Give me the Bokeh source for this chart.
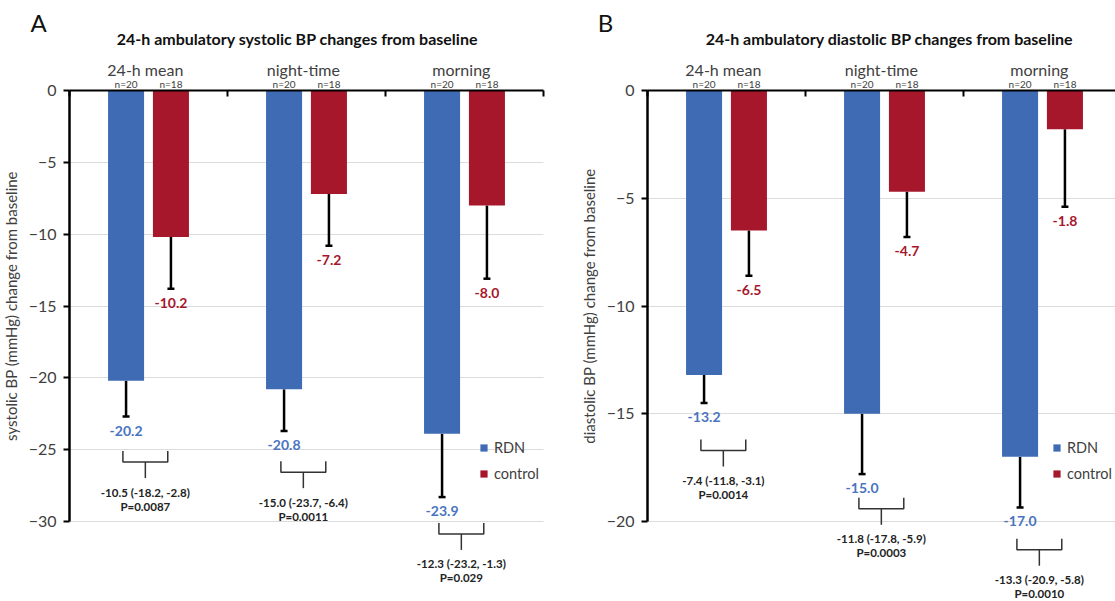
from bokeh.plotting import figure
from bokeh.models import (Range1d, LinearAxis, FixedTicker, Legend, LegendItem,
                          ColumnDataSource, Whisker, TeeHead, Label, Grid)
from bokeh.layouts import row
from bokeh.embed import file_html
from bokeh.resources import INLINE
from bokeh.core.properties import value

# ---------------- data ----------------
categories = ["24-h mean", "night-time", "morning"]
n_rdn = ["n=20", "n=20", "n=20"]
n_ctl = ["n=18", "n=18", "n=18"]
groups = ["RDN", "control"]

sbp_rdn = [-20.2, -20.8, -23.9]
sbp_rdn_err = [-22.7, -23.7, -28.3]
sbp_ctl = [-10.2, -7.2, -8.0]
sbp_ctl_err = [-13.8, -10.8, -13.1]
sbp_diff = ["-10.5 (-18.2, -2.8)", "-15.0 (-23.7, -6.4)", "-12.3 (-23.2, -1.3)"]
sbp_p = ["P=0.0087", "P=0.0011", "P=0.029"]
sbp_bracket_y = [-25.1, -25.8, -30.1]
sbp_ticks = [0, -5, -10, -15, -20, -25, -30]

dbp_rdn = [-13.2, -15.0, -17.0]
dbp_rdn_err = [-14.5, -17.8, -19.35]
dbp_ctl = [-6.5, -4.7, -1.8]
dbp_ctl_err = [-8.6, -6.8, -5.4]
dbp_diff = ["-7.4 (-11.8, -3.1)", "-11.8 (-17.8, -5.9)", "-13.3 (-20.9, -5.8)"]
dbp_p = ["P=0.0014", "P=0.0003", "P=0.0010"]
dbp_bracket_y = [-16.2, -18.9, -20.8]
dbp_ticks = [0, -5, -10, -15, -20]

# ---------------- style ----------------
H = 601
ZERO_PX = 90          # pixel row of y = 0
CAT_PX = 158          # pixels per category
FONT = "Lato"
BLUE = "#3F6BB5"
RED = "#A6172C"
BLUE_TXT = "#4A74BF"
RED_TXT = "#A6172C"
GREY = "#404040"
DARK = "#222222"
OFF = 0.142
BW = 0.228


def make_panel(letter, title, ylabel, rdn, rdn_err, ctl, ctl_err, diffs, pvals,
               bracket_y, ticks, width, axis_px, ppu, title_px, letter_px,
               legend_loc):
    top = ZERO_PX / ppu
    bottom = -(H - ZERO_PX) / ppu
    px = lambda n: n / ppu
    xpx = lambda n: (n - axis_px) / CAT_PX

    p = figure(width=width, height=H,
               x_range=Range1d(-axis_px / CAT_PX, (width - axis_px) / CAT_PX),
               y_range=Range1d(bottom, top), output_backend="svg",
               toolbar_location=None, x_axis_location=None, y_axis_location=None,
               min_border_left=0, min_border_right=0,
               min_border_top=0, min_border_bottom=0)
    p.outline_line_color = None
    p.background_fill_color = "white"
    p.border_fill_color = "white"
    p.grid.visible = False

    # grid lines
    g = Grid(dimension=1, ticker=FixedTicker(ticks=ticks[1:]),
             grid_line_color="#dcdcdc", grid_line_width=1)
    if "cross_bounds" in Grid.properties():
        g.cross_bounds = (0, 3)
    p.add_layout(g)

    # y axis at x = 0
    ya = LinearAxis(fixed_location=0, ticker=FixedTicker(ticks=ticks),
                    bounds=(min(ticks), 0))
    ya.axis_line_width = 2.5
    ya.axis_line_color = "black"
    ya.major_tick_line_width = 2
    ya.major_tick_line_color = "black"
    ya.major_tick_in = 0
    ya.major_tick_out = 6
    ya.minor_tick_line_color = None
    ya.major_label_standoff = 7
    ya.major_label_text_font = FONT
    ya.major_label_text_font_size = "16px"
    ya.major_label_text_color = GREY
    ya.axis_label = ylabel
    ya.axis_label_text_font = FONT
    ya.axis_label_text_font_size = "15px"
    ya.axis_label_text_font_style = "normal"
    ya.axis_label_text_color = GREY
    ya.axis_label_standoff = 6
    p.add_layout(ya, "left")

    # x axis at y = 0
    xa = LinearAxis(fixed_location=0, ticker=FixedTicker(ticks=[0, 1, 2, 3]),
                    bounds=(0, 3),
                    major_label_overrides={0: "", 1: "", 2: "", 3: ""},
                    major_tick_in=0, major_tick_out=6, major_tick_line_width=2,
                    axis_line_width=1.8, minor_tick_line_color=None)
    p.add_layout(xa, "below")

    centers = [i + 0.5 for i in range(len(categories))]
    xr = [c - OFF for c in centers]
    xc = [c + OFF for c in centers]

    src_r = ColumnDataSource(dict(x=xr, val=rdn, err=rdn_err,
                                  lab=[f"{v:.1f}" for v in rdn],
                                  ly=[e - px(14) for e in rdn_err], n=n_rdn))
    src_c = ColumnDataSource(dict(x=xc, val=ctl, err=ctl_err,
                                  lab=[f"{v:.1f}" for v in ctl],
                                  ly=[e - px(14) for e in ctl_err], n=n_ctl))

    br = p.vbar(x="x", width=BW, top=0, bottom="val", source=src_r,
                fill_color=BLUE, line_color=None)
    bc = p.vbar(x="x", width=BW, top=0, bottom="val", source=src_c,
                fill_color=RED, line_color=None)

    for s in (src_r, src_c):
        w = Whisker(source=s, base="x", upper="val", lower="err",
                    dimension="height", line_width=2.5, line_color="black",
                    upper_head=None,
                    lower_head=TeeHead(size=7, line_width=2.5, line_color="black"))
        p.add_layout(w)

    p.text(x="x", y="ly", text="lab", source=src_r, text_align="center",
           text_baseline="middle", text_font=value(FONT),
           text_font_size="14px", text_font_style="bold", text_color=BLUE_TXT)
    p.text(x="x", y="ly", text="lab", source=src_c, text_align="center",
           text_baseline="middle", text_font=value(FONT),
           text_font_size="14px", text_font_style="bold", text_color=RED_TXT)

    # n labels and category labels
    for s in (src_r, src_c):
        p.text(x="x", y=px(7), text="n", source=s, text_align="center",
               text_baseline="middle", text_font=value(FONT),
               text_font_size="10px", text_color=GREY)
    p.text(x=[c - 0.02 for c in centers], y=[px(21)] * 3, text=categories,
           text_align="center", text_baseline="middle", text_font=value(FONT),
           text_font_size="16px", text_color=GREY)

    # brackets with differences
    bx, by = [], []
    sx0, sx1, sy0, sy1 = [], [], [], []
    for c, yb in zip(centers, bracket_y):
        c = c - 0.02
        yh = yb - px(11)
        bx.append([c - OFF, c - OFF, c + OFF, c + OFF])
        by.append([yb, yh, yh, yb])
        sx0.append(c); sx1.append(c); sy0.append(yh); sy1.append(yh - px(16))
    p.multi_line(bx, by, line_color="#333333", line_width=1.5)
    p.segment(sx0, sy0, sx1, sy1, line_color="#333333", line_width=1.5)
    p.text(x=sx0, y=[y - px(14) for y in sy1], text=diffs,
           text_align="center", text_baseline="middle", text_font=value(FONT),
           text_font_size="11.5px", text_font_style="bold", text_color=DARK)
    p.text(x=sx0, y=[y - px(28) for y in sy1], text=pvals,
           text_align="center", text_baseline="middle", text_font=value(FONT),
           text_font_size="11.5px", text_font_style="bold", text_color=DARK)

    # title & panel letter
    p.add_layout(Label(x=xpx(title_px), y=top - px(38), text=title,
                       text_align="center", text_baseline="middle",
                       text_font=FONT, text_font_size="16px",
                       text_font_style="bold", text_color="#111111"))
    p.add_layout(Label(x=xpx(letter_px), y=top - px(22), text=letter,
                       text_align="center", text_baseline="middle",
                       text_font=FONT, text_font_size="24px",
                       text_color="#111111"))

    legend = Legend(items=[LegendItem(label=groups[0], renderers=[br]),
                           LegendItem(label=groups[1], renderers=[bc])],
                    location=legend_loc, glyph_width=9, glyph_height=9,
                    label_height=20, spacing=6, label_standoff=6, padding=0,
                    margin=0, border_line_color=None, background_fill_alpha=0,
                    label_text_font=FONT, label_text_font_size="14.5px",
                    label_text_color=GREY)
    p.add_layout(legend)
    return p


p1 = make_panel("A", "24-h ambulatory systolic BP changes from baseline",
                "systolic BP (mmHg) change from baseline",
                sbp_rdn, sbp_rdn_err, sbp_ctl, sbp_ctl_err, sbp_diff, sbp_p,
                sbp_bracket_y, sbp_ticks, width=560, axis_px=69,
                ppu=431 / 30, title_px=297, letter_px=38, legend_loc=(479, 118))
p2 = make_panel("B", "24-h ambulatory diastolic BP changes from baseline",
                "diastolic BP (mmHg) change from baseline",
                dbp_rdn, dbp_rdn_err, dbp_ctl, dbp_ctl_err, dbp_diff, dbp_p,
                dbp_bracket_y, dbp_ticks, width=555, axis_px=87,
                ppu=431 / 20, title_px=329, letter_px=45, legend_loc=(492, 118))

layout = row(p1, p2)
open("out.html", "w").write(file_html(layout, INLINE))
